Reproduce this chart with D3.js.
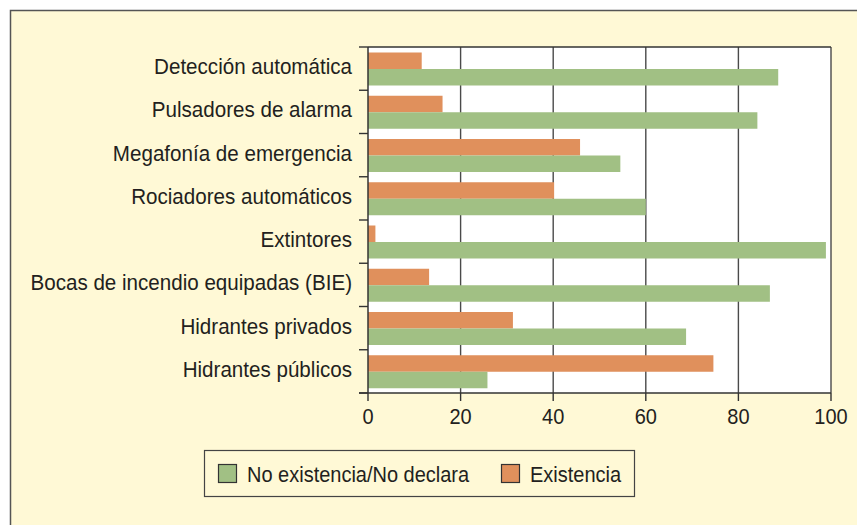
<!DOCTYPE html>
<html>
<head>
<meta charset="utf-8">
<script src="https://cdn.jsdelivr.net/npm/d3@7"></script>
<style>
  body { margin: 0; background: #fff; }
  text { font-family: "Liberation Sans", Arial, sans-serif; fill: #231f20; }
</style>
</head>
<body>
<svg id="chart" width="857" height="525"></svg>
<script>
// categories, top to bottom
var categories = [
  "Detección automática",
  "Pulsadores de alarma",
  "Megafonía de emergencia",
  "Rociadores automáticos",
  "Extintores",
  "Bocas de incendio equipadas (BIE)",
  "Hidrantes privados",
  "Hidrantes públicos"
];
// percentages
var existencia   = [11.6, 16.1, 45.8, 40.2, 1.6, 13.2, 31.3, 74.6];
var noExistencia = [88.6, 84.1, 54.5, 60.0, 98.9, 86.8, 68.7, 25.8];
var xTicks = [0, 20, 40, 60, 80, 100];
var seriesNames = ["No existencia/No declara", "Existencia"];
var seriesColors = ["#a1c084", "#e0905c"];

var svg = d3.select("#chart");

// cream panel with frame
svg.append("rect")
  .attr("x", 10.5).attr("y", 10.5)
  .attr("width", 900).attr("height", 600)
  .attr("fill", "#fff9d6")
  .attr("stroke", "#555").attr("stroke-width", 1.5);

var x = d3.scaleLinear().domain([0, 100]).range([368, 831]);
var y = d3.scaleBand().domain(categories).range([47, 393]);
// inner band: orange (Existencia) on top, green below
var inner = d3.scaleBand().domain(["exi", "noexi"]).range([5.5, 38.5]);

// plot background
svg.append("rect")
  .attr("x", x(0)).attr("y", y.range()[0])
  .attr("width", x(100) - x(0)).attr("height", y.range()[1] - y.range()[0])
  .attr("fill", "#fff");

// vertical grid
svg.append("g").selectAll("line")
  .data(xTicks.slice(1))
  .join("line")
  .attr("x1", function(d) { return x(d); })
  .attr("x2", function(d) { return x(d); })
  .attr("y1", 47).attr("y2", 393)
  .attr("stroke", "#4a4a4a").attr("stroke-width", 1.4);

// top border
svg.append("line")
  .attr("x1", x(0)).attr("x2", x(100))
  .attr("y1", 47).attr("y2", 47)
  .attr("stroke", "#333").attr("stroke-width", 1.5);

var rows = categories.map(function(c, i) {
  return { cat: c, exi: existencia[i], noexi: noExistencia[i] };
});

var groups = svg.append("g").selectAll("g")
  .data(rows)
  .join("g")
  .attr("transform", function(d) { return "translate(0," + y(d.cat) + ")"; });

groups.append("rect")
  .attr("x", x(0))
  .attr("y", inner("exi"))
  .attr("width", function(d) { return x(d.exi) - x(0); })
  .attr("height", inner.bandwidth())
  .attr("fill", seriesColors[1]);

groups.append("rect")
  .attr("x", x(0))
  .attr("y", inner("noexi"))
  .attr("width", function(d) { return x(d.noexi) - x(0); })
  .attr("height", inner.bandwidth())
  .attr("fill", seriesColors[0]);

// category labels
groups.append("text")
  .attr("text-anchor", "end")
  .attr("font-size", 20.6)
  .attr("transform", "translate(352,27) scale(1,1.08)")
  .text(function(d) { return d.cat; });

// y axis with ticks at band edges
var yEdges = categories.map(function(c) { return y(c); }).concat([393]);
svg.append("g").selectAll("line")
  .data(yEdges)
  .join("line")
  .attr("x1", 359).attr("x2", x(0))
  .attr("y1", function(d) { return d; })
  .attr("y2", function(d) { return d; })
  .attr("stroke", "#333").attr("stroke-width", 1.4);
svg.append("line")
  .attr("x1", x(0)).attr("x2", x(0))
  .attr("y1", 47).attr("y2", 393)
  .attr("stroke", "#333").attr("stroke-width", 1.5);

// x axis
var xAxis = svg.append("g").attr("transform", "translate(0,393)");
xAxis.append("line")
  .attr("x1", 359).attr("x2", x(100))
  .attr("stroke", "#333").attr("stroke-width", 1.5);
xAxis.selectAll("line.tick")
  .data(xTicks)
  .join("line")
  .attr("class", "tick")
  .attr("x1", function(d) { return x(d); })
  .attr("x2", function(d) { return x(d); })
  .attr("y1", 0).attr("y2", 8)
  .attr("stroke", "#333").attr("stroke-width", 1.4);
xAxis.selectAll("text")
  .data(xTicks)
  .join("text")
  .attr("text-anchor", "middle")
  .attr("font-size", 20)
  .attr("transform", function(d) { return "translate(" + x(d) + ",31) scale(1,1.08)"; })
  .text(function(d) { return d; });

// legend
var legend = svg.append("g");
legend.append("rect")
  .attr("x", 204.5).attr("y", 450.5)
  .attr("width", 430).attr("height", 46)
  .attr("fill", "none").attr("stroke", "#444").attr("stroke-width", 1.2);

var legX = [218, 501];
seriesNames.forEach(function(name, i) {
  legend.append("rect")
    .attr("x", legX[i] + 0.5).attr("y", 464.5)
    .attr("width", 18).attr("height", 18)
    .attr("fill", seriesColors[i])
    .attr("stroke", "#333").attr("stroke-width", 1.2);
  legend.append("text")
    .attr("font-size", 20)
    .attr("transform", "translate(" + (legX[i] + 29) + ",482) scale(1,1.08)")
    .text(name);
});
</script>
</body>
</html>
